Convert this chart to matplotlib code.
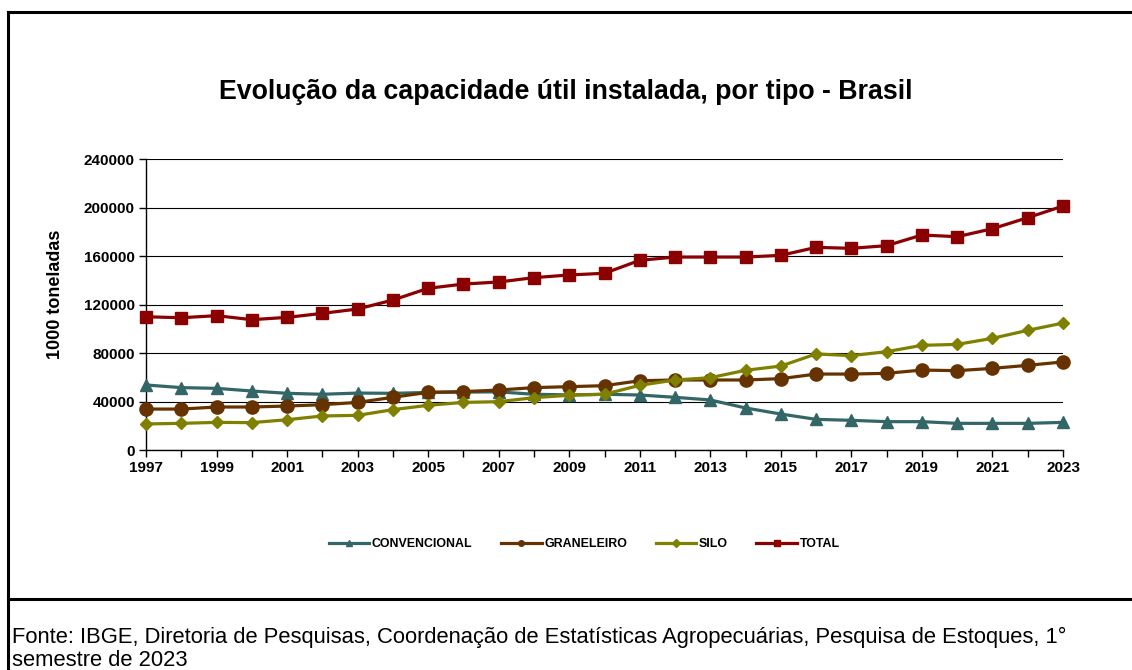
import matplotlib
matplotlib.use("Agg")
import matplotlib.pyplot as plt
from matplotlib.lines import Line2D

plt.rcParams["font.family"] = ["Liberation Sans", "DejaVu Sans"]

years = list(range(1997, 2024))

convencional = [53700, 51500, 50900, 48700, 46800, 46000, 47000, 46800, 47500, 47800,
                48000, 46000, 45500, 46000, 45400, 43500, 41300, 34700, 29700, 25300,
                24500, 23400, 23400, 22000, 22000, 22000, 22800]
graneleiro = [33800, 33800, 35500, 35500, 36300, 37400, 39300, 43500, 47600, 48200,
              49500, 51500, 52300, 53100, 57200, 57800, 57800, 57800, 58900, 62700,
              62700, 63300, 66000, 65500, 67400, 69900, 72700]
silo = [21500, 22000, 22800, 22600, 25000, 28100, 28600, 33300, 36900, 39300,
        39900, 43200, 45200, 46000, 53400, 57800, 59700, 65800, 69300, 79300,
        77900, 81200, 86400, 87200, 92200, 98800, 104800]
total = [110000, 109200, 110900, 107600, 109500, 112800, 116400, 123800, 133500, 137000,
         138700, 142300, 144500, 145900, 156600, 159300, 159300, 159300, 160700, 167300,
         166500, 168700, 177500, 176100, 182700, 191800, 201400]

series = [
    ("CONVENCIONAL", convencional, "#336666", "^", 9),
    ("GRANELEIRO", graneleiro, "#663300", "o", 9.5),
    ("SILO", silo, "#808000", "D", 6.5),
    ("TOTAL", total, "#8B0000", "s", 8),
]

fig = plt.figure(figsize=(11.32, 6.7), dpi=100)
ax = fig.add_axes([146 / 1132, 1 - 450 / 670, (1063 - 146) / 1132, (450 - 159.3) / 670])

for name, vals, color, marker, ms in series:
    ax.plot(years, vals, color=color, marker=marker, markersize=ms, linewidth=2.3,
            clip_on=False, zorder=3)

ax.set_xlim(1997, 2023)
ax.set_ylim(0, 240000)
ax.set_yticks(range(0, 240001, 40000))
ax.set_xticks(range(1997, 2024, 2))
ax.set_xticks(range(1997, 2024), minor=True)
ax.grid(True, axis="y", color="black", linewidth=0.8)
ax.set_axisbelow(True)
for s in ["top", "right"]:
    ax.spines[s].set_visible(False)
for s in ["left", "bottom"]:
    ax.spines[s].set_linewidth(1.0)
ax.tick_params(axis="both", which="both", direction="out", length=5, width=1.0)
ax.tick_params(axis="x", which="minor", length=5)
ax.tick_params(axis="both", labelsize=11, pad=3)
for lbl in ax.get_xticklabels() + ax.get_yticklabels():
    lbl.set_fontweight("bold")

ax.set_ylabel("1000 toneladas", fontsize=13, fontweight="bold")
ax.yaxis.set_label_coords(-0.089, 0.535)

fig.text(0.5, 1 - 92 / 670, "Evolução da capacidade útil instalada, por tipo - Brasil",
         ha="center", va="center", fontsize=19.3, fontweight="bold")

handles = [Line2D([], [], color=c, marker=m, markersize=4, linewidth=2.3)
           for _, _, c, m, _ in series]
labels = [n for n, _, _, _, _ in series]
fig.legend(handles, labels, loc="center", bbox_to_anchor=(0.516, 1 - 544 / 670), ncol=4,
           frameon=False, handlelength=3.3, handletextpad=0.2, columnspacing=2.3,
           prop={"size": 8.9, "weight": "bold"})

# frame around the chart and caption
fig.add_artist(Line2D([8 / 1132, 1], [1 - 12 / 670, 1 - 12 / 670], color="black", linewidth=2.2))
fig.add_artist(Line2D([8 / 1132, 8 / 1132], [0, 1 - 12 / 670], color="black", linewidth=2.2))
fig.add_artist(Line2D([8 / 1132, 1], [1 - 599 / 670, 1 - 599 / 670], color="black", linewidth=2.2))

fig.text(12 / 1132, 1 - 637 / 670,
         "Fonte: IBGE, Diretoria de Pesquisas, Coordenação de Estatísticas Agropecuárias, Pesquisa de Estoques, 1°",
         ha="left", va="center", fontsize=15.8)
fig.text(12 / 1132, 1 - 660 / 670, "semestre de 2023", ha="left", va="center", fontsize=15.8)

fig.savefig("out.png", dpi=100)
